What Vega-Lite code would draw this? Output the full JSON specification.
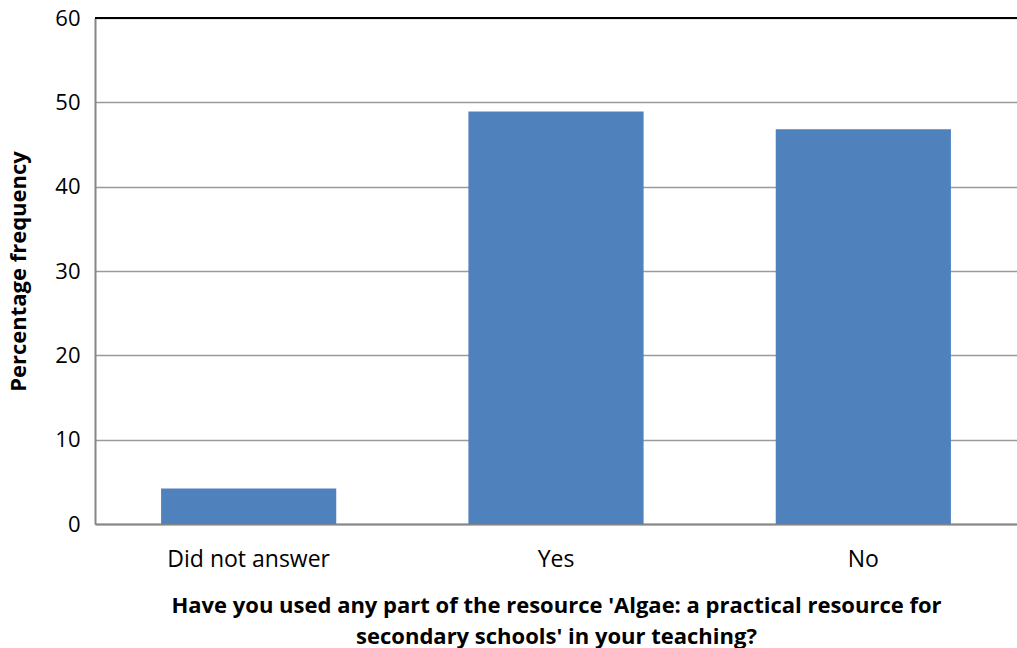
{
  "$schema": "https://vega.github.io/schema/vega-lite/v6.json",
  "width": 922,
  "height": 506,
  "autosize": {"type": "none"},
  "padding": {"left": 95, "top": 18, "right": 0, "bottom": 124},
  "background": "white",
  "config": {
    "view": {"stroke": null},
    "font": "Open Sans"
  },
  "data": {
    "values": [
      {"answer": "Did not answer", "pct": 4.2},
      {"answer": "Yes", "pct": 48.9},
      {"answer": "No", "pct": 46.8}
    ]
  },
  "layer": [
    {
      "mark": {"type": "bar", "color": "#4F81BD"},
      "encoding": {
        "x": {
          "field": "answer",
          "type": "nominal",
          "sort": ["Did not answer", "Yes", "No"],
          "scale": {"paddingInner": 0.43, "paddingOuter": 0.215},
          "axis": {
            "title": ["Have you used any part of the resource 'Algae: a practical resource for", "secondary schools' in your teaching?"],
            "titleFont": "Open Sans",
            "titleFontSize": 22,
            "titleFontWeight": "bold",
            "titleColor": "#000000",
            "titleLineHeight": 31,
            "titlePadding": 24,
            "labelAngle": 0,
            "labelFont": "Open Sans",
            "labelFontSize": 23,
            "labelColor": "#000000",
            "labelPadding": 24,
            "ticks": false,
            "domainColor": "#868686",
            "domainWidth": 2
          }
        },
        "y": {
          "field": "pct",
          "type": "quantitative",
          "scale": {"domain": [0, 60]},
          "axis": {
            "title": "Percentage frequency",
            "titleFont": "Open Sans",
            "titleFontSize": 22,
            "titleFontWeight": "bold",
            "titleColor": "#000000",
            "titlePadding": 24,
            "values": [0, 10, 20, 30, 40, 50, 60],
            "labelFont": "Open Sans",
            "labelFontSize": 22,
            "labelColor": "#000000",
            "labelPadding": 15,
            "ticks": false,
            "domainColor": "#868686",
            "domainWidth": 2,
            "grid": true,
            "gridColor": "#9a9a9a",
            "gridWidth": 1.5
          }
        }
      }
    },
    {
      "mark": {"type": "rule", "color": "#000000", "strokeWidth": 2},
      "encoding": {"y": {"datum": 60}}
    }
  ]
}
